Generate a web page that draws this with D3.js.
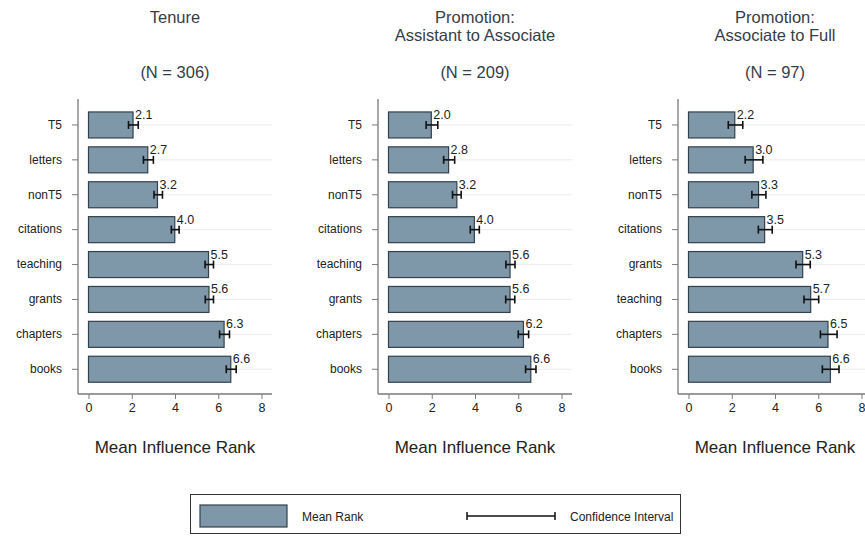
<!DOCTYPE html>
<html>
<head>
<meta charset="utf-8">
<script src="https://cdn.jsdelivr.net/npm/d3@7"></script>
<style>
  body { margin: 0; background: #fff; }
  svg { display: block; font-family: "Liberation Sans", Arial, Helvetica, sans-serif; }
</style>
</head>
<body>
<svg id="chart" width="865" height="536"></svg>
<script>
// ---- Data ----
const panelTitles = [
  ["Tenure"],
  ["Promotion:", "Assistant to Associate"],
  ["Promotion:", "Associate to Full"]
];
const panelN = ["(N = 306)", "(N = 209)", "(N = 97)"];

const tenureCats  = ["T5", "letters", "nonT5", "citations", "teaching", "grants", "chapters", "books"];
const tenureMean  = [2.06, 2.74, 3.19, 3.99, 5.55, 5.57, 6.27, 6.58];
const tenureLo    = [1.85, 2.54, 3.03, 3.83, 5.39, 5.40, 6.06, 6.37];
const tenureHi    = [2.30, 3.00, 3.42, 4.19, 5.78, 5.78, 6.52, 6.83];
const tenureLab   = ["2.1", "2.7", "3.2", "4.0", "5.5", "5.6", "6.3", "6.6"];

const asstCats    = ["T5", "letters", "nonT5", "citations", "teaching", "grants", "chapters", "books"];
const asstMean    = [1.98, 2.78, 3.16, 3.97, 5.62, 5.62, 6.24, 6.58];
const asstLo      = [1.74, 2.55, 2.96, 3.78, 5.43, 5.42, 6.00, 6.34];
const asstHi      = [2.28, 3.06, 3.36, 4.20, 5.85, 5.84, 6.48, 6.82];
const asstLab     = ["2.0", "2.8", "3.2", "4.0", "5.6", "5.6", "6.2", "6.6"];

const fullCats    = ["T5", "letters", "nonT5", "citations", "grants", "teaching", "chapters", "books"];
const fullMean    = [2.14, 2.99, 3.24, 3.52, 5.28, 5.65, 6.45, 6.56];
const fullLo      = [1.84, 2.62, 2.93, 3.23, 4.97, 5.34, 6.10, 6.19];
const fullHi      = [2.51, 3.44, 3.58, 3.87, 5.63, 6.02, 6.87, 6.96];
const fullLab     = ["2.2", "3.0", "3.3", "3.5", "5.3", "5.7", "6.5", "6.6"];

const xTicks = [0, 2, 4, 6, 8];
const xTitle = "Mean Influence Rank";
const legendLabels = ["Mean Rank", "Confidence Interval"];

// ---- Build ----
const panels = [
  { cats: tenureCats, mean: tenureMean, lo: tenureLo, hi: tenureHi, lab: tenureLab },
  { cats: asstCats,   mean: asstMean,   lo: asstLo,   hi: asstHi,   lab: asstLab },
  { cats: fullCats,   mean: fullMean,   lo: fullLo,   hi: fullHi,   lab: fullLab }
];

const svg = d3.select("#chart");
const barFill = "#7e97a9";
const barStroke = "#33414c";
const axisColor = "#7a7a7a";
const textColor = "#222";
const titleColor = "#363d48";

panels.forEach((p, i) => {
  const x0 = 88.5 + i * 300;
  const axisX = x0 - 10.5;
  const plotRight = x0 + 183.5;
  const yTop = 99, yBottom = 394;

  const x = d3.scaleLinear().domain([0, 8]).range([x0, x0 + 173]);
  const y = d3.scaleBand().domain(p.cats).range([107.5, 386.7]).paddingInner(0.255).paddingOuter(0.1275);

  const g = svg.append("g");
  const rows = p.cats.map((c, k) => ({ cat: c, mean: p.mean[k], lo: p.lo[k], hi: p.hi[k], lab: p.lab[k] }));

  // gridlines
  g.selectAll(".grid").data(rows).enter().append("line")
    .attr("x1", x0).attr("x2", plotRight)
    .attr("y1", d => y(d.cat) + y.bandwidth() / 2)
    .attr("y2", d => y(d.cat) + y.bandwidth() / 2)
    .attr("stroke", "#ececec").attr("stroke-width", 1);

  // bars
  g.selectAll(".bar").data(rows).enter().append("rect")
    .attr("x", x(0))
    .attr("y", d => y(d.cat))
    .attr("width", d => x(d.mean) - x(0))
    .attr("height", y.bandwidth())
    .attr("fill", barFill)
    .attr("stroke", barStroke)
    .attr("stroke-width", 1.2);

  // error bars
  const eb = g.selectAll(".eb").data(rows).enter().append("g")
    .attr("stroke", "#111").attr("stroke-width", 1.6);
  eb.append("line")
    .attr("x1", d => x(d.lo)).attr("x2", d => x(d.hi))
    .attr("y1", d => y(d.cat) + y.bandwidth() / 2)
    .attr("y2", d => y(d.cat) + y.bandwidth() / 2);
  eb.append("line")
    .attr("x1", d => x(d.lo)).attr("x2", d => x(d.lo))
    .attr("y1", d => y(d.cat) + y.bandwidth() / 2 - 4)
    .attr("y2", d => y(d.cat) + y.bandwidth() / 2 + 4);
  eb.append("line")
    .attr("x1", d => x(d.hi)).attr("x2", d => x(d.hi))
    .attr("y1", d => y(d.cat) + y.bandwidth() / 2 - 4)
    .attr("y2", d => y(d.cat) + y.bandwidth() / 2 + 4);

  // value labels
  g.selectAll(".val").data(rows).enter().append("text")
    .attr("x", d => x(d.mean) + 2)
    .attr("y", d => y(d.cat) + 7)
    .attr("font-size", 12.5)
    .attr("fill", textColor)
    .text(d => d.lab);

  // y axis
  const yAxis = d3.axisLeft(y).tickSize(6).tickPadding(10);
  const ya = g.append("g").attr("transform", `translate(${axisX},0)`).call(yAxis);
  ya.select(".domain").remove();
  ya.selectAll(".tick line").attr("stroke", axisColor);
  ya.selectAll(".tick text").attr("font-size", 12).attr("fill", textColor)
    .attr("font-family", "Liberation Sans, Arial, sans-serif");
  g.append("line").attr("x1", axisX).attr("x2", axisX).attr("y1", yTop).attr("y2", yBottom)
    .attr("stroke", axisColor).attr("stroke-width", 1.3);

  // x axis
  const xAxis = d3.axisBottom(x).tickValues(xTicks).tickFormat(d3.format("d")).tickSize(5).tickPadding(4);
  const xa = g.append("g").attr("transform", `translate(0,${yBottom})`).call(xAxis);
  xa.select(".domain").remove();
  xa.selectAll(".tick line").attr("stroke", axisColor);
  xa.selectAll(".tick text").attr("font-size", 12.5).attr("fill", textColor)
    .attr("font-family", "Liberation Sans, Arial, sans-serif");
  g.append("line").attr("x1", axisX).attr("x2", plotRight).attr("y1", yBottom).attr("y2", yBottom)
    .attr("stroke", axisColor).attr("stroke-width", 1.3);

  // axis title
  const cx = (axisX + plotRight) / 2;
  g.append("text").attr("x", cx).attr("y", 453).attr("text-anchor", "middle")
    .attr("font-size", 17).attr("fill", textColor).text(xTitle);

  // panel titles
  panelTitles[i].forEach((t, j) => {
    g.append("text").attr("x", cx).attr("y", 22.5 + j * 18.5).attr("text-anchor", "middle")
      .attr("font-size", 16.5).attr("fill", titleColor).text(t);
  });
  g.append("text").attr("x", cx).attr("y", 77.5).attr("text-anchor", "middle")
    .attr("font-size", 16.5).attr("fill", titleColor).text(panelN[i]);
});

// legend
const lg = svg.append("g");
lg.append("rect").attr("x", 190.5).attr("y", 494.5).attr("width", 490).attr("height", 39)
  .attr("fill", "#fff").attr("stroke", "#333").attr("stroke-width", 1);
lg.append("rect").attr("x", 200).attr("y", 505).attr("width", 87).attr("height", 22)
  .attr("fill", barFill).attr("stroke", barStroke).attr("stroke-width", 1.2);
lg.append("text").attr("x", 302).attr("y", 520.5).attr("font-size", 12).attr("fill", textColor).text(legendLabels[0]);
const ci = lg.append("g").attr("stroke", "#111").attr("stroke-width", 1.5);
ci.append("line").attr("x1", 467).attr("x2", 555).attr("y1", 516).attr("y2", 516);
ci.append("line").attr("x1", 467).attr("x2", 467).attr("y1", 512).attr("y2", 520);
ci.append("line").attr("x1", 555).attr("x2", 555).attr("y1", 512).attr("y2", 520);
lg.append("text").attr("x", 570).attr("y", 520.5).attr("font-size", 12).attr("fill", textColor).text(legendLabels[1]);
</script>
</body>
</html>
